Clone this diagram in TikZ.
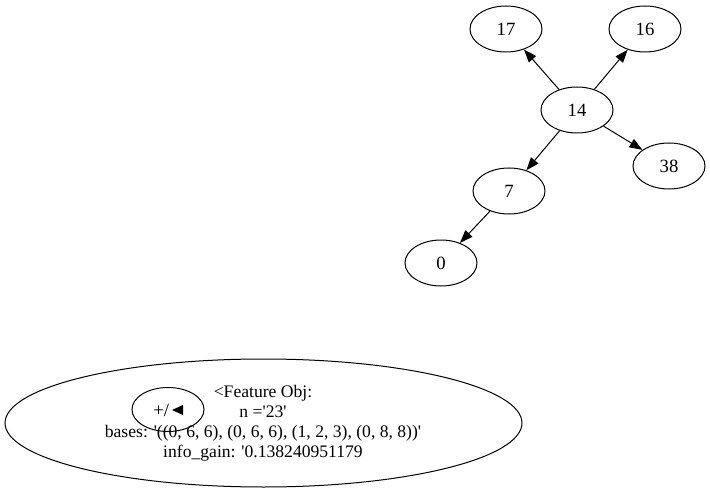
\documentclass[tikz,border=0pt]{standalone}
\usepackage{fontspec}
\newfontfamily\dotfont{Liberation Serif}
\usetikzlibrary{arrows.meta,shapes.geometric}

\begin{document}
\begin{tikzpicture}[x=1pt,y=-1pt,line width=1pt,
    vertex/.style={draw,ellipse,minimum width=72pt,minimum height=46pt,inner sep=0pt},
    link/.style={-{Triangle[length=13pt,width=9.5pt]}},
    every node/.style={font=\dotfont\fontsize{18.7}{20}\selectfont}]
    \useasboundingbox (0,0) rectangle (710,492);

    \node[vertex] (n17) at (506,29) {17};
    \node[vertex] (n16) at (645,29) {16};
    \node[vertex] (n14) at (577,110) {14};
    \node[vertex] (n38) at (669,166) {38};
    \node[vertex] (n7) at (509,191) {7};
    \node[vertex] (n0) at (441,263) {0};

    \draw[link] (n14) -- (n17); \draw[link] (n14) -- (n16);
    \draw[link] (n14) -- (n38); \draw[link] (n14) -- (n7);
    \draw[link] (n7) -- (n0);

    \node[draw,ellipse,minimum width=517pt,minimum height=128pt,inner sep=0pt] (feat) at (263.5,423) {};
    \node[align=center,font=\dotfont\fontsize{17.6}{20}\selectfont] (featlbl) at (263,423)
        {<Feature Obj:\\ n ='23'\\ bases: '((0, 6, 6), (0, 6, 6), (1, 2, 3), (0, 8, 8))'\\ info\_gain: '0.138240951179};

    \node[vertex,minimum height=44pt] (sign) at (168,409.5) {};
    \node[anchor=east] (signlbl) at (173,410) {+/};
    \fill (172,410) -- (183,405) -- (183,415) -- cycle;
\end{tikzpicture}
\end{document}
